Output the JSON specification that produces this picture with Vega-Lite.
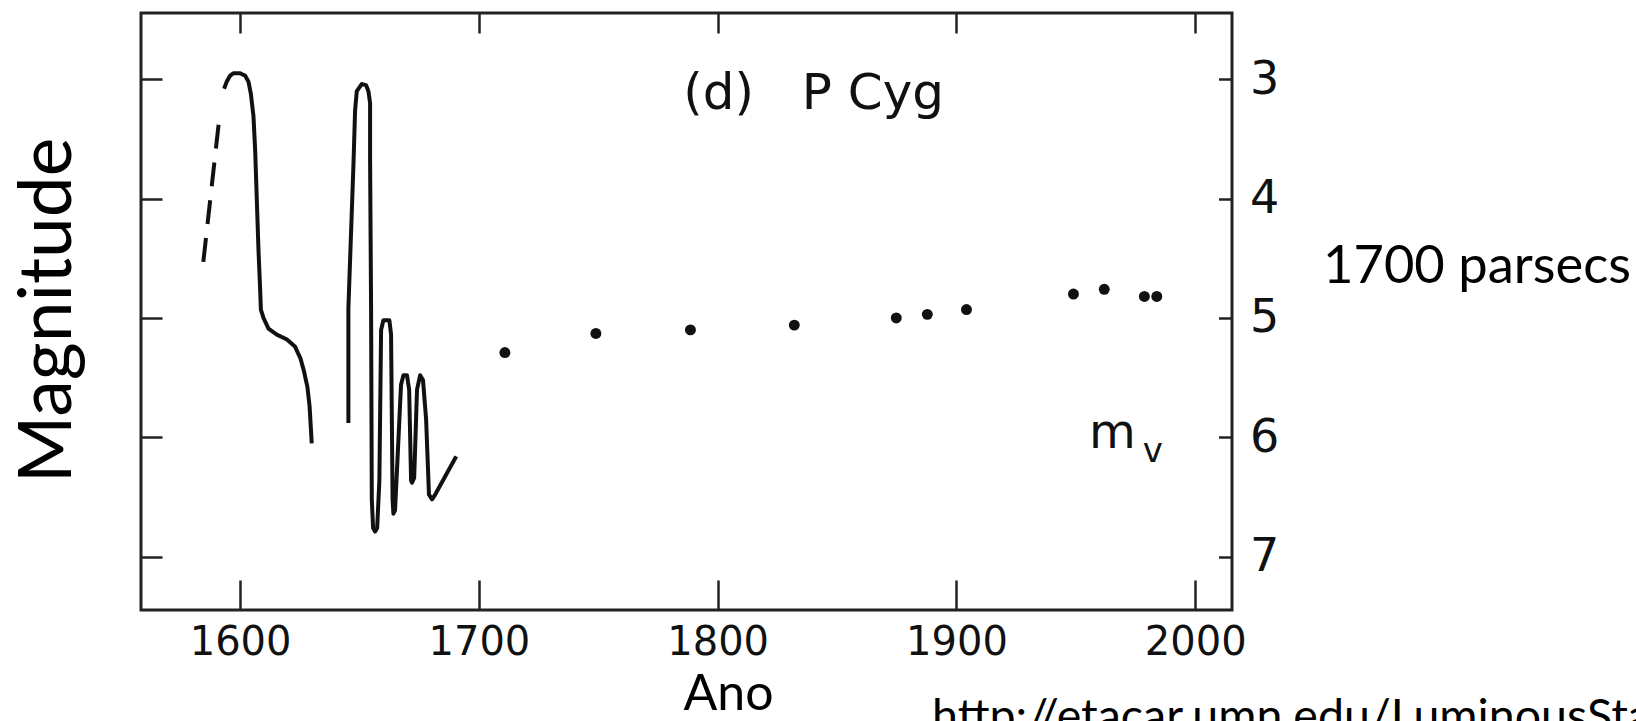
{
  "$schema": "https://vega.github.io/schema/vega-lite/v6.json",
  "width": 1091,
  "height": 597,
  "autosize": {"type": "none"},
  "padding": {"left": 141, "top": 13, "right": 404, "bottom": 111},
  "background": "white",
  "config": {
    "view": {"stroke": "#222", "strokeWidth": 3},
    "axis": {"domain": false, "grid": false, "tickColor": "#222", "tickWidth": 2.5, "labelColor": "#111", "titleColor": "#000"}
  },
  "resolve": {"axis": {"x": "independent", "y": "independent"}},
  "layer": [
    {
      "data": {"values": [
        {"seg": "a", "style": "dashed", "i": 1, "year": 1584.6, "mag": 4.53},
        {"seg": "a", "style": "dashed", "i": 2, "year": 1591.6, "mag": 3.27},
        {"seg": "b", "style": "solid", "i": 1, "year": 1593.3, "mag": 3.08},
        {"seg": "b", "style": "solid", "i": 2, "year": 1594.4, "mag": 3.02},
        {"seg": "b", "style": "solid", "i": 3, "year": 1595.8, "mag": 2.97},
        {"seg": "b", "style": "solid", "i": 4, "year": 1597.2, "mag": 2.95},
        {"seg": "b", "style": "solid", "i": 5, "year": 1600.0, "mag": 2.95},
        {"seg": "b", "style": "solid", "i": 6, "year": 1602.1, "mag": 2.97},
        {"seg": "b", "style": "solid", "i": 7, "year": 1603.5, "mag": 3.02},
        {"seg": "b", "style": "solid", "i": 8, "year": 1604.5, "mag": 3.12},
        {"seg": "b", "style": "solid", "i": 9, "year": 1605.6, "mag": 3.31},
        {"seg": "b", "style": "solid", "i": 10, "year": 1606.3, "mag": 3.59},
        {"seg": "b", "style": "solid", "i": 11, "year": 1607.0, "mag": 4.01},
        {"seg": "b", "style": "solid", "i": 12, "year": 1607.7, "mag": 4.43},
        {"seg": "b", "style": "solid", "i": 13, "year": 1608.4, "mag": 4.76},
        {"seg": "b", "style": "solid", "i": 14, "year": 1608.7, "mag": 4.93},
        {"seg": "b", "style": "solid", "i": 15, "year": 1609.8, "mag": 5.0},
        {"seg": "b", "style": "solid", "i": 16, "year": 1611.9, "mag": 5.09},
        {"seg": "b", "style": "solid", "i": 17, "year": 1615.4, "mag": 5.14},
        {"seg": "b", "style": "solid", "i": 18, "year": 1619.6, "mag": 5.18},
        {"seg": "b", "style": "solid", "i": 19, "year": 1623.0, "mag": 5.24},
        {"seg": "b", "style": "solid", "i": 20, "year": 1625.3, "mag": 5.34},
        {"seg": "b", "style": "solid", "i": 21, "year": 1626.8, "mag": 5.45},
        {"seg": "b", "style": "solid", "i": 22, "year": 1628.2, "mag": 5.58},
        {"seg": "b", "style": "solid", "i": 23, "year": 1629.1, "mag": 5.74},
        {"seg": "b", "style": "solid", "i": 24, "year": 1629.6, "mag": 5.91},
        {"seg": "b", "style": "solid", "i": 25, "year": 1630.0, "mag": 6.05},
        {"seg": "c", "style": "solid", "i": 1, "year": 1645.35, "mag": 5.88},
        {"seg": "c", "style": "solid", "i": 2, "year": 1645.35, "mag": 4.92},
        {"seg": "c", "style": "solid", "i": 3, "year": 1647.45, "mag": 3.73},
        {"seg": "c", "style": "solid", "i": 4, "year": 1648.16, "mag": 3.26},
        {"seg": "c", "style": "solid", "i": 5, "year": 1648.87, "mag": 3.1},
        {"seg": "c", "style": "solid", "i": 6, "year": 1650.96, "mag": 3.04},
        {"seg": "c", "style": "solid", "i": 7, "year": 1652.76, "mag": 3.05},
        {"seg": "c", "style": "solid", "i": 8, "year": 1653.73, "mag": 3.1},
        {"seg": "c", "style": "solid", "i": 9, "year": 1654.44, "mag": 3.2},
        {"seg": "c", "style": "solid", "i": 10, "year": 1654.44, "mag": 3.67},
        {"seg": "c", "style": "solid", "i": 11, "year": 1654.86, "mag": 4.93},
        {"seg": "c", "style": "solid", "i": 12, "year": 1655.15, "mag": 6.52},
        {"seg": "c", "style": "solid", "i": 13, "year": 1655.7, "mag": 6.76},
        {"seg": "c", "style": "solid", "i": 14, "year": 1656.53, "mag": 6.79},
        {"seg": "c", "style": "solid", "i": 15, "year": 1657.4, "mag": 6.76},
        {"seg": "c", "style": "solid", "i": 16, "year": 1658.33, "mag": 6.36},
        {"seg": "c", "style": "solid", "i": 17, "year": 1659.05, "mag": 5.1},
        {"seg": "c", "style": "solid", "i": 18, "year": 1660.01, "mag": 5.02},
        {"seg": "c", "style": "solid", "i": 19, "year": 1662.52, "mag": 5.02},
        {"seg": "c", "style": "solid", "i": 20, "year": 1663.23, "mag": 5.14},
        {"seg": "c", "style": "solid", "i": 21, "year": 1663.86, "mag": 6.52},
        {"seg": "c", "style": "solid", "i": 22, "year": 1664.2, "mag": 6.64},
        {"seg": "c", "style": "solid", "i": 23, "year": 1664.9, "mag": 6.61},
        {"seg": "c", "style": "solid", "i": 24, "year": 1667.4, "mag": 5.56},
        {"seg": "c", "style": "solid", "i": 25, "year": 1668.4, "mag": 5.48},
        {"seg": "c", "style": "solid", "i": 26, "year": 1669.9, "mag": 5.48},
        {"seg": "c", "style": "solid", "i": 27, "year": 1670.8, "mag": 5.6},
        {"seg": "c", "style": "solid", "i": 28, "year": 1671.6, "mag": 6.36},
        {"seg": "c", "style": "solid", "i": 29, "year": 1672.0, "mag": 6.38},
        {"seg": "c", "style": "solid", "i": 30, "year": 1672.9, "mag": 6.34},
        {"seg": "c", "style": "solid", "i": 31, "year": 1674.1, "mag": 5.6},
        {"seg": "c", "style": "solid", "i": 32, "year": 1675.4, "mag": 5.48},
        {"seg": "c", "style": "solid", "i": 33, "year": 1676.6, "mag": 5.52},
        {"seg": "c", "style": "solid", "i": 34, "year": 1677.9, "mag": 5.85},
        {"seg": "c", "style": "solid", "i": 35, "year": 1679.1, "mag": 6.48},
        {"seg": "c", "style": "solid", "i": 36, "year": 1680.4, "mag": 6.52},
        {"seg": "c", "style": "solid", "i": 37, "year": 1681.7, "mag": 6.48},
        {"seg": "c", "style": "solid", "i": 38, "year": 1690.5, "mag": 6.16}
      ]},
      "mark": {"type": "line", "color": "#111", "strokeWidth": 4, "strokeJoin": "round"},
      "encoding": {
        "x": {"field": "year", "type": "quantitative",
          "scale": {"domain": [1558.5, 2015.4], "nice": false, "zero": false},
          "axis": {"orient": "bottom", "values": [1600, 1700, 1800, 1900, 2000], "format": "d",
            "tickSize": -30, "labelPadding": 42, "labelFont": "DejaVu Sans", "labelFontSize": 40,
            "title": "Ano", "titleFont": "Lato", "titleFontSize": 50, "titleFontWeight": "normal",
            "titleX": 587, "titleY": 99, "titleBaseline": "alphabetic", "titleAlign": "center"}},
        "y": {"field": "mag", "type": "quantitative",
          "scale": {"domain": [2.445, 7.447], "reverse": true, "nice": false, "zero": false},
          "axis": {"orient": "left", "values": [3, 4, 5, 6, 7], "labels": false, "tickSize": -21,
            "title": "Magnitude", "titleFont": "Lato", "titleFontSize": 73, "titleFontWeight": "normal",
            "titleAngle": 270, "titleX": -71, "titleY": 297, "titleBaseline": "alphabetic", "titleAlign": "center"}},
        "detail": {"field": "seg"},
        "order": {"field": "i", "type": "quantitative"},
        "strokeDash": {"field": "style", "type": "nominal",
          "scale": {"domain": ["solid", "dashed"], "range": [[1, 0], [24, 14]]}, "legend": null}
      }
    },
    {
      "data": {"values": [
        {"year": 1710.9, "mag": 5.29},
        {"year": 1749.0, "mag": 5.13},
        {"year": 1788.6, "mag": 5.1},
        {"year": 1832.1, "mag": 5.06},
        {"year": 1874.8, "mag": 5.0},
        {"year": 1887.8, "mag": 4.97},
        {"year": 1904.2, "mag": 4.93},
        {"year": 1949.0, "mag": 4.8},
        {"year": 1961.9, "mag": 4.76},
        {"year": 1978.7, "mag": 4.82},
        {"year": 1983.9, "mag": 4.82}
      ]},
      "mark": {"type": "point", "filled": true, "color": "#111", "opacity": 1, "size": 120},
      "encoding": {
        "x": {"field": "year", "type": "quantitative",
          "scale": {"domain": [1558.5, 2015.4], "nice": false, "zero": false},
          "axis": {"orient": "top", "values": [1600, 1700, 1800, 1900, 2000], "labels": false, "tickSize": -20, "title": null}},
        "y": {"field": "mag", "type": "quantitative",
          "scale": {"domain": [2.445, 7.447], "reverse": true, "nice": false, "zero": false},
          "axis": {"orient": "right", "values": [3, 4, 5, 6, 7], "tickSize": -13.5, "labelPadding": 31,
            "labelFont": "DejaVu Sans", "labelFontSize": 46, "labelAlign": "left", "labelBaseline": "middle", "title": null}}
      }
    },
    {
      "data": {"values": [{"label": "(d)\u00a0\u00a0\u00a0P Cyg", "year": 1840.2, "mag": 3.25}]},
      "mark": {"type": "text", "font": "DejaVu Sans", "fontSize": 50, "align": "center", "baseline": "alphabetic", "color": "#111"},
      "encoding": {
        "x": {"field": "year", "type": "quantitative", "scale": {"domain": [1558.5, 2015.4], "nice": false, "zero": false}, "axis": null},
        "y": {"field": "mag", "type": "quantitative", "scale": {"domain": [2.445, 7.447], "reverse": true, "nice": false, "zero": false}, "axis": null},
        "text": {"field": "label"}
      }
    },
    {
      "data": {"values": [{"label": "m", "year": 1955.5, "mag": 6.091}]},
      "mark": {"type": "text", "font": "DejaVu Sans", "fontSize": 48, "align": "left", "baseline": "alphabetic", "color": "#111"},
      "encoding": {
        "x": {"field": "year", "type": "quantitative", "scale": {"domain": [1558.5, 2015.4], "nice": false, "zero": false}, "axis": null},
        "y": {"field": "mag", "type": "quantitative", "scale": {"domain": [2.445, 7.447], "reverse": true, "nice": false, "zero": false}, "axis": null},
        "text": {"field": "label"}
      }
    },
    {
      "data": {"values": [{"label": "v", "year": 1978.0, "mag": 6.204}]},
      "mark": {"type": "text", "font": "DejaVu Sans", "fontSize": 34, "align": "left", "baseline": "alphabetic", "color": "#111"},
      "encoding": {
        "x": {"field": "year", "type": "quantitative", "scale": {"domain": [1558.5, 2015.4], "nice": false, "zero": false}, "axis": null},
        "y": {"field": "mag", "type": "quantitative", "scale": {"domain": [2.445, 7.447], "reverse": true, "nice": false, "zero": false}, "axis": null},
        "text": {"field": "label"}
      }
    },
    {
      "data": {"values": [{"label": "1700 parsecs", "year": 2053.5, "mag": 4.708}]},
      "mark": {"type": "text", "font": "Lato", "fontSize": 52.5, "align": "left", "baseline": "alphabetic", "color": "#000"},
      "encoding": {
        "x": {"field": "year", "type": "quantitative", "scale": {"domain": [1558.5, 2015.4], "nice": false, "zero": false}, "axis": null},
        "y": {"field": "mag", "type": "quantitative", "scale": {"domain": [2.445, 7.447], "reverse": true, "nice": false, "zero": false}, "axis": null},
        "text": {"field": "label"}
      }
    },
    {
      "data": {"values": [{"label": "http://etacar.umn.edu/LuminousStars/", "year": 1889.8, "mag": 8.465}]},
      "mark": {"type": "text", "font": "Lato", "fontSize": 46.5, "align": "left", "baseline": "alphabetic", "color": "#000"},
      "encoding": {
        "x": {"field": "year", "type": "quantitative", "scale": {"domain": [1558.5, 2015.4], "nice": false, "zero": false}, "axis": null},
        "y": {"field": "mag", "type": "quantitative", "scale": {"domain": [2.445, 7.447], "reverse": true, "nice": false, "zero": false}, "axis": null},
        "text": {"field": "label"}
      }
    }
  ]
}
